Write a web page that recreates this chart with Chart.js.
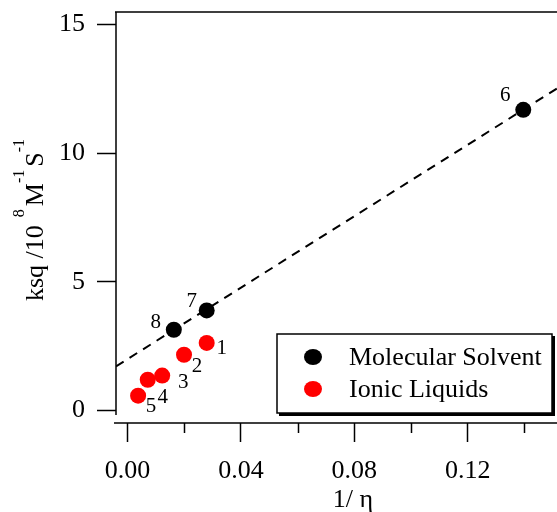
<!DOCTYPE html>
<html>
<head>
<meta charset="utf-8">
<script src="https://cdn.jsdelivr.net/npm/chart.js@4.4.1/dist/chart.umd.min.js"></script>
<style>
  body { margin: 0; background: #fff; }
  canvas { display: block; }
</style>
</head>
<body>
<canvas id="chart" width="557" height="512"></canvas>
<script>
// quenching rate constant against inverse viscosity
const molX = [0.1396, 0.0279, 0.0163];
const molY = [11.68, 3.89, 3.14];
const molIds = ["6", "7", "8"];

const ilX = [0.0279, 0.0199, 0.0122, 0.0071, 0.0037];
const ilY = [2.63, 2.17, 1.36, 1.20, 0.58];
const ilIds = ["1", "2", "3", "4", "5"];

// straight line fitted to the molecular solvents
const fitX = [-0.0041, 0.1515];
const fitY = [1.72, 12.51];

const xMajorTicks = [0, 0.04, 0.08, 0.12];
const xMinorTicks = [0.02, 0.06, 0.10, 0.14];
const yTicks = [0, 5, 10, 15];

const serif = "'Liberation Serif', 'Times New Roman', serif";

const toPoints = (xs, ys) => xs.map((x, i) => ({ x: x, y: ys[i] }));

// where each number label sits relative to its point
const idOffsets = {
  "1": [15, 6], "2": [13, 12], "3": [21, 7], "4": [15, 18], "5": [13, 11],
  "6": [-18, -14], "7": [-15, -9], "8": [-18, -7]
};

const extrasPlugin = {
  id: "extras",
  afterDatasetsDraw(chart) {
    const ctx = chart.ctx;
    const area = chart.chartArea;
    const xs = chart.scales.x;

    ctx.save();
    ctx.strokeStyle = "#000";
    ctx.lineWidth = 1.5;

    // axis lines
    ctx.beginPath();
    ctx.moveTo(area.left, area.top);
    ctx.lineTo(area.left, area.bottom - 8);
    ctx.moveTo(area.left - 1, area.top);
    ctx.lineTo(area.right, area.top);
    ctx.moveTo(area.left - 2, area.bottom);
    ctx.lineTo(area.right, area.bottom);
    ctx.stroke();

    // minor ticks on x
    ctx.beginPath();
    xMinorTicks.forEach(v => {
      const px = Math.round(xs.getPixelForValue(v)) + 0.5;
      ctx.moveTo(px, area.bottom);
      ctx.lineTo(px, area.bottom + 10);
    });
    ctx.stroke();

    // number labels next to the points
    ctx.fillStyle = "#000";
    ctx.font = "21px " + serif;
    ctx.textAlign = "center";
    ctx.textBaseline = "middle";
    chart.data.datasets.forEach((ds, di) => {
      if (!ds.ids) return;
      const meta = chart.getDatasetMeta(di);
      meta.data.forEach((pt, i) => {
        const off = idOffsets[ds.ids[i]];
        ctx.fillText(ds.ids[i], pt.x + off[0], pt.y + off[1]);
      });
    });

    // legend box with drop shadow
    const lx = 277, ly = 334, lw = 275, lh = 79;
    ctx.fillStyle = "#000";
    ctx.fillRect(lx + 2, ly + 2, lw + 1, lh + 1);
    ctx.fillStyle = "#fff";
    ctx.fillRect(lx, ly, lw, lh);
    ctx.strokeRect(lx, ly, lw, lh);

    ctx.font = "26px " + serif;
    ctx.textAlign = "left";
    ctx.textBaseline = "alphabetic";
    const entries = chart.data.datasets.filter(ds => ds.ids);
    entries.forEach((ds, i) => {
      const cy = 357 + i * 32;
      ctx.fillStyle = ds.backgroundColor;
      ctx.beginPath();
      ctx.ellipse(313, cy, 9, 8, 0, 0, Math.PI * 2);
      ctx.fill();
      ctx.fillStyle = "#000";
      ctx.fillText(ds.label, 349, cy + 8);
    });

    // x title
    ctx.textAlign = "center";
    ctx.textBaseline = "middle";
    ctx.font = "26px " + serif;
    ctx.fillText("1/ \u03b7", 353, 500);

    // y title with superscripts
    const main = "26px " + serif;
    const sup = "16px " + serif;
    const parts = [
      ["ksq /10", main, 0, 8],
      ["8", sup, -19, 3],
      ["M", main, 0, 0],
      ["-1", sup, -19, 3],
      ["S", main, 0, 0],
      ["-1", sup, -19, 0]
    ];
    let total = 0;
    parts.forEach(p => { ctx.font = p[1]; total += ctx.measureText(p[0]).width + p[3]; });
    ctx.translate(43, 220);
    ctx.rotate(-Math.PI / 2);
    ctx.textAlign = "left";
    ctx.textBaseline = "alphabetic";
    let pos = -total / 2;
    parts.forEach(p => {
      ctx.font = p[1];
      ctx.fillText(p[0], pos, p[2]);
      pos += ctx.measureText(p[0]).width + p[3];
    });
    ctx.restore();
  }
};

let canvas = document.getElementById("chart");
let context = canvas.getContext("2d");

let data = {
  datasets: [
    {
      type: "line",
      label: "fit",
      data: toPoints(fitX, fitY),
      borderColor: "#000",
      borderWidth: 2,
      borderDash: [9, 7],
      pointRadius: 0,
      fill: false
    },
    {
      type: "scatter",
      label: "Molecular Solvent",
      data: toPoints(molX, molY),
      ids: molIds,
      backgroundColor: "#000",
      borderWidth: 0,
      pointRadius: 8
    },
    {
      type: "scatter",
      label: "Ionic Liquids",
      data: toPoints(ilX, ilY),
      ids: ilIds,
      backgroundColor: "#ff0000",
      borderWidth: 0,
      pointRadius: 8
    }
  ]
};

let tickFont = { family: serif, size: 26 };

// fixed axis sizes so the plot area lands where it should
const fixPadding = scale => {
  scale.paddingTop = 0;
  scale.paddingBottom = 0;
  scale.paddingLeft = 0;
  scale.paddingRight = 0;
};

let config = {
  type: "scatter",
  data: data,
  options: {
    responsive: false,
    animation: false,
    devicePixelRatio: 1,
    layout: { autoPadding: false, padding: { top: 12, left: 0, right: 0, bottom: 0 } },
    plugins: { legend: { display: false }, tooltip: { enabled: false } },
    scales: {
      x: {
        type: "linear",
        position: "bottom",
        min: fitX[0],
        max: fitX[1],
        afterBuildTicks: scale => { scale.ticks = xMajorTicks.map(v => ({ value: v })); },
        afterFit: scale => { scale.height = 89; fixPadding(scale); },
        ticks: {
          font: tickFont,
          color: "#000",
          padding: 14,
          maxRotation: 0,
          callback: v => v.toFixed(2)
        },
        grid: { drawOnChartArea: false, tickLength: 19, tickColor: "#000", tickWidth: 1.5 },
        border: { display: false }
      },
      y: {
        type: "linear",
        min: -0.48,
        max: 15.48,
        afterBuildTicks: scale => { scale.ticks = yTicks.map(v => ({ value: v })); },
        afterFit: scale => { scale.width = 116; fixPadding(scale); },
        ticks: { font: tickFont, color: "#000", padding: 12 },
        grid: { drawOnChartArea: false, tickLength: 19, tickColor: "#000", tickWidth: 1.5 },
        border: { display: false }
      }
    }
  },
  plugins: [extrasPlugin]
};

let chart = new Chart(context, config);
</script>
</body>
</html>
